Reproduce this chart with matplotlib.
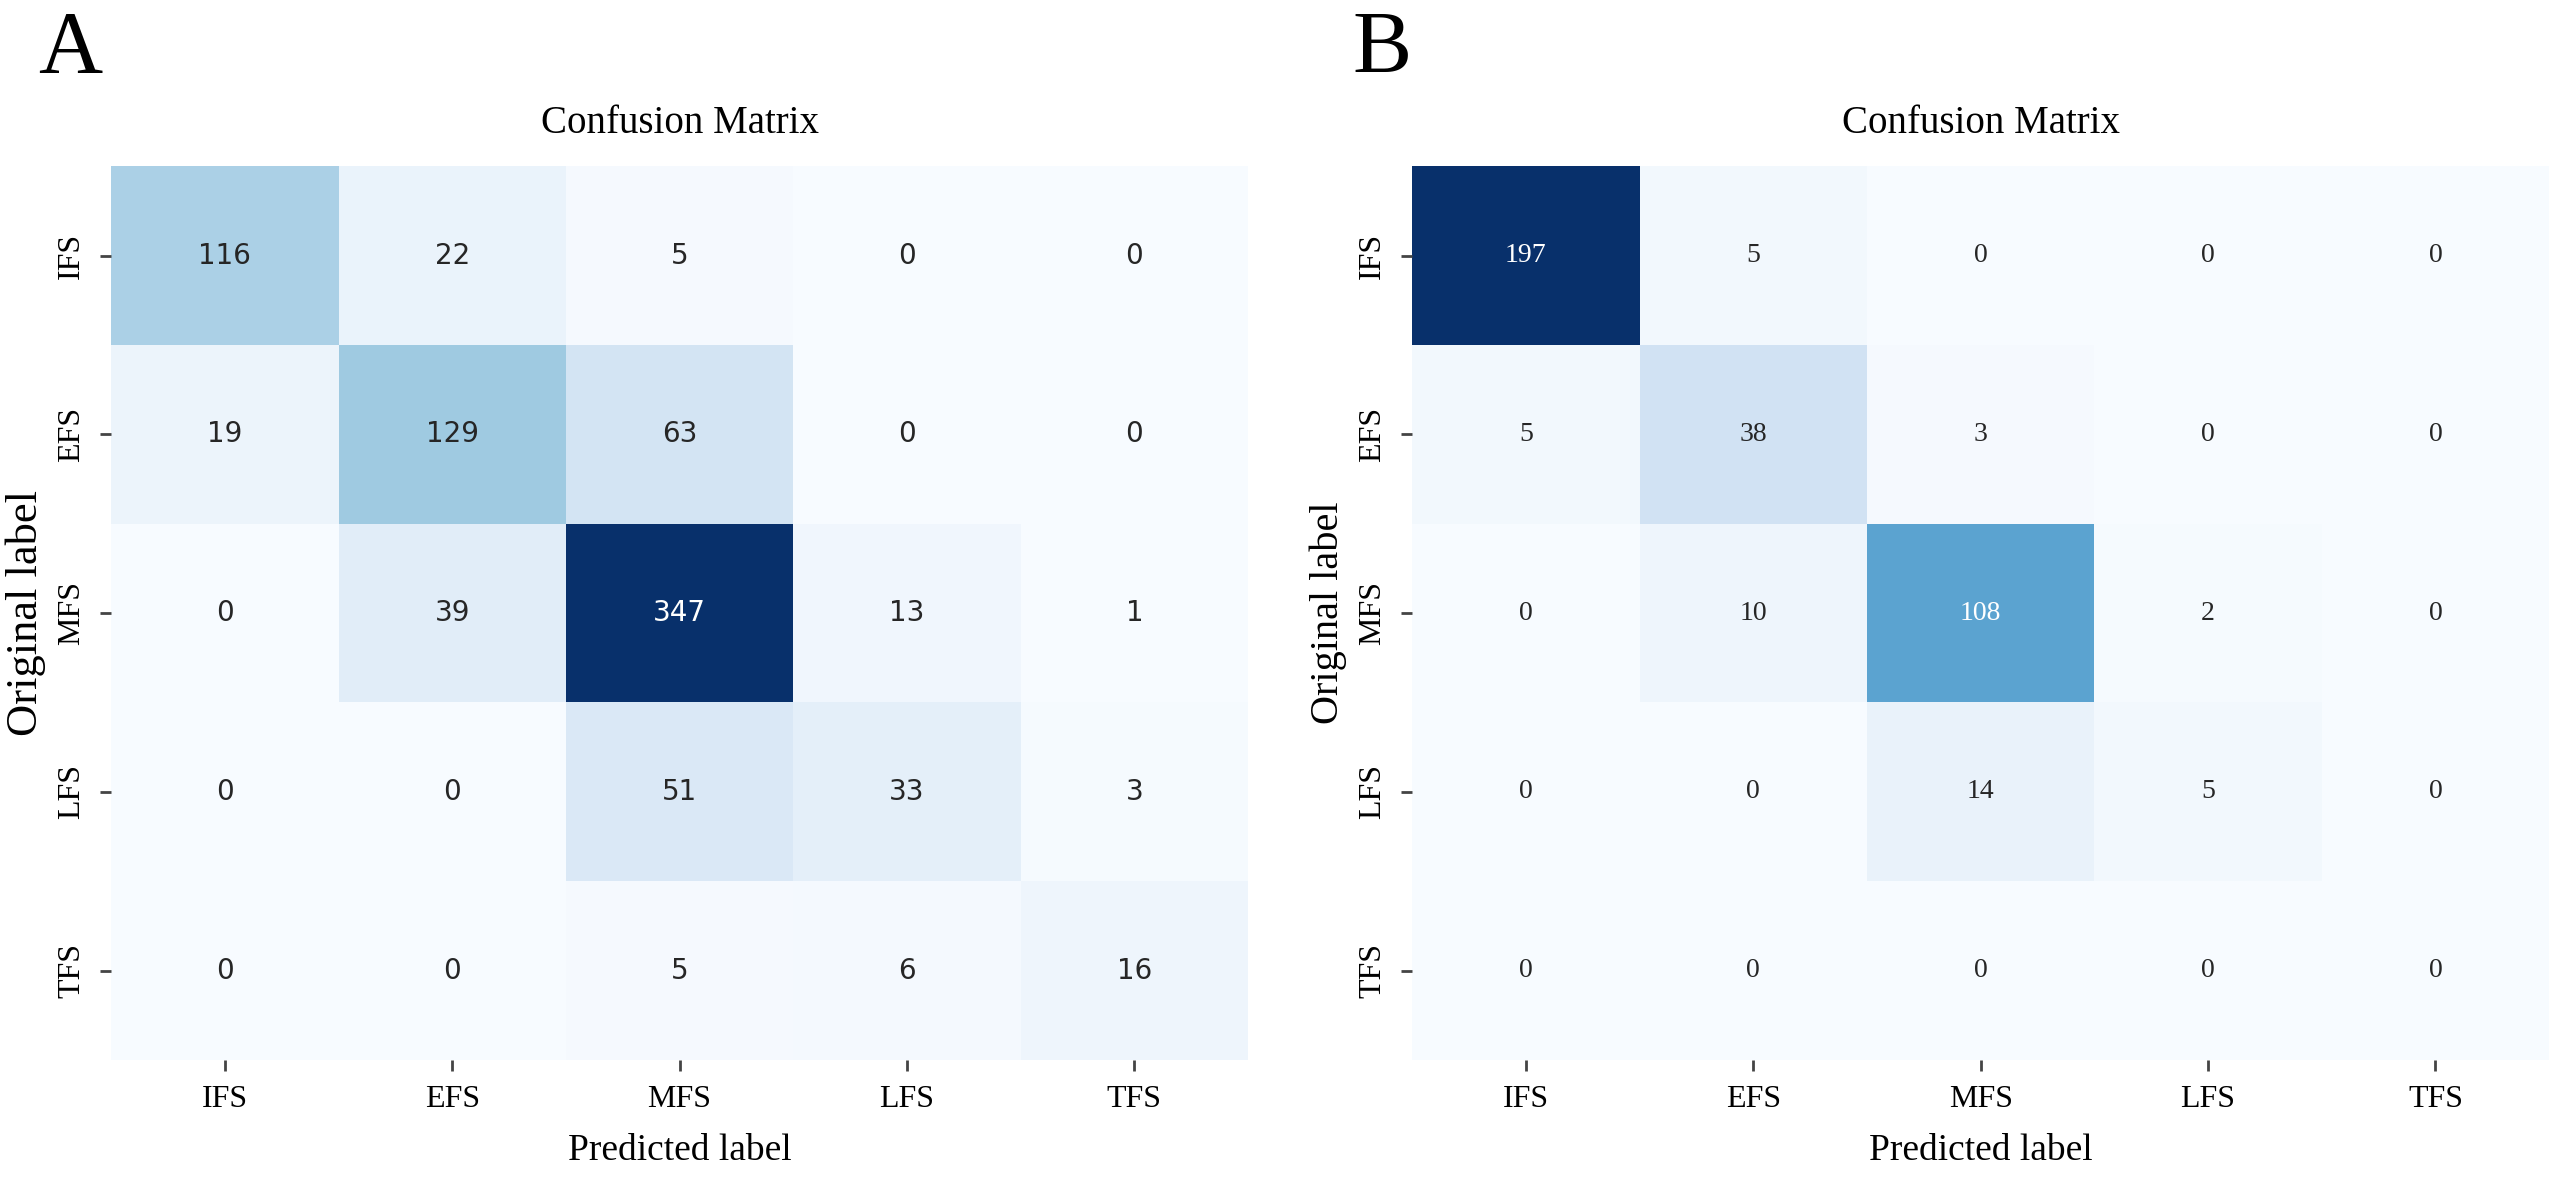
import numpy as np
import matplotlib
matplotlib.use('Agg')
import matplotlib.pyplot as plt
import seaborn as sns

plt.rcParams['font.family'] = ['Liberation Serif', 'DejaVu Serif']

# 데이터
labels = ['IFS', 'EFS', 'MFS', 'LFS', 'TFS']

cm_a = np.array([
    [116, 22, 5, 0, 0],
    [19, 129, 63, 0, 0],
    [0, 39, 347, 13, 1],
    [0, 0, 51, 33, 3],
    [0, 0, 5, 6, 16],
])

cm_b = np.array([
    [197, 5, 0, 0, 0],
    [5, 38, 3, 0, 0],
    [0, 10, 108, 2, 0],
    [0, 0, 14, 5, 0],
    [0, 0, 0, 0, 0],
])

fig = plt.figure(figsize=(25.54, 11.84), dpi=100)
ax_a = fig.add_axes([0.0435, 0.1047, 0.4452, 0.755])
ax_b = fig.add_axes([0.5529, 0.1047, 0.4452, 0.755])

# A : 숫자는 sans, B : 숫자는 serif
panels = [
    (ax_a, cm_a, 'A', 38, 'DejaVu Sans', 32),
    (ax_b, cm_b, 'B', 1352, 'Liberation Serif', 29),
]

for ax, cm, letter, lx, annot_font, ylab_size in panels:
    sns.heatmap(cm, ax=ax, cmap='Blues', annot=True, fmt='d', cbar=False,
                annot_kws={'fontsize': 20, 'family': annot_font},
                xticklabels=labels, yticklabels=labels)
    ax.set_title('Confusion Matrix', fontsize=28, pad=24)
    ax.set_xlabel('Predicted label', fontsize=27, labelpad=14)
    ax.set_ylabel('Original label', fontsize=ylab_size, labelpad=8)
    ax.tick_params(axis='both', labelsize=23, length=8, width=2, color='#444444', pad=10)
    plt.setp(ax.get_yticklabels(), rotation=90, va='center')
    plt.setp(ax.get_xticklabels(), rotation=0)
    fig.text(lx / 2554, 1 - 72 / 1184, letter, fontsize=64, va='baseline', ha='left')

fig.savefig('out.png', dpi=100)
